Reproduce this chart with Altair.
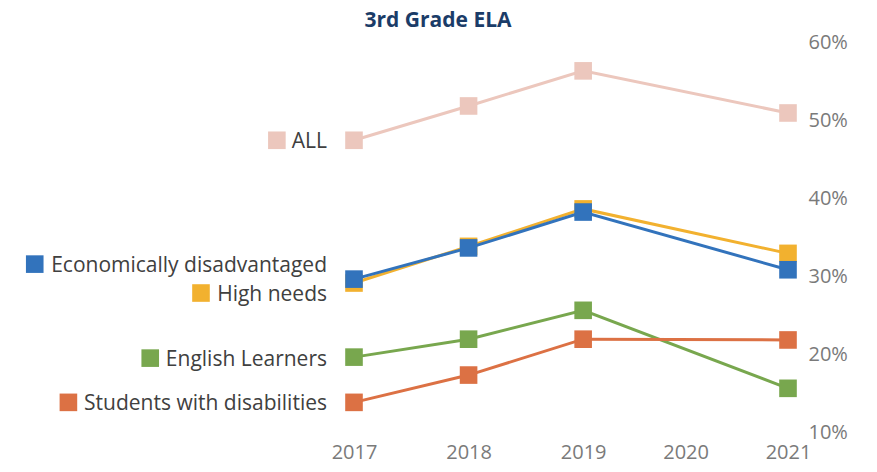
import altair as alt
import pandas as pd

# ---- data ----
years = [2017, 2018, 2019, 2021]
axis_years = [2017, 2018, 2019, 2020, 2021]
y_ticks = [10, 20, 30, 40, 50, 60]

series_order = ["ALL", "High needs", "Economically disadvantaged",
                "English Learners", "Students with disabilities"]
all_vals = [47.4, 51.8, 56.3, 50.9]
high_needs_vals = [29.1, 33.8, 38.6, 32.9]
econ_vals = [29.6, 33.6, 38.2, 30.8]
el_vals = [19.6, 21.9, 25.6, 15.6]
swd_vals = [13.8, 17.3, 21.9, 21.8]

values = {
    "ALL": all_vals,
    "High needs": high_needs_vals,
    "Economically disadvantaged": econ_vals,
    "English Learners": el_vals,
    "Students with disabilities": swd_vals,
}

# ---- styling ----
colors = {
    "ALL": "#ecc7bd",
    "High needs": "#f2b12f",
    "Economically disadvantaged": "#3273bc",
    "English Learners": "#78a74e",
    "Students with disabilities": "#dc7144",
}
label_dy = {
    "ALL": 2,
    "High needs": 12,
    "Economically disadvantaged": -13,
    "English Learners": 3,
    "Students with disabilities": 2,
}

FONT = "Open Sans"
LABEL_SIZE = 21
# approximate Open Sans advance widths (units per em = 2048)
ADV = {" ": 532, "A": 1296, "E": 1139, "H": 1513, "L": 1016, "S": 1100,
       "a": 1139, "b": 1255, "c": 975, "d": 1255, "e": 1149, "g": 1122,
       "h": 1257, "i": 518, "l": 518, "m": 1905, "n": 1257, "o": 1237,
       "r": 836, "s": 977, "t": 723, "u": 1257, "v": 1032, "w": 1591,
       "y": 1032}


def text_width(s, size):
    return sum(ADV.get(ch, 1150) for ch in s) * size / 2048.0


W = 434
H = 390

X = alt.X(
    "year:Q",
    scale=alt.Scale(domain=[2017, 2019, 2021], range=[0, W * 0.528, W],
                    nice=False, zero=False),
    axis=alt.Axis(values=axis_years, format="d", labelFontSize=20,
                  labelFont=FONT, labelColor="#7a7a7a", domain=False,
                  ticks=False, grid=False, title=None, labelPadding=10,
                  labelFlush=False),
)
Y = alt.Y(
    "value:Q",
    scale=alt.Scale(domain=[10, 60], nice=False, zero=False),
    axis=alt.Axis(orient="right", values=y_ticks,
                  labelExpr="datum.value + '%'", labelFontSize=20,
                  labelFont=FONT, labelColor="#7a7a7a", domain=False,
                  ticks=False, grid=False, title=None, labelPadding=20,
                  labelFlush=False),
)

layers = []
for name in series_order:
    df = pd.DataFrame({"year": years, "value": values[name], "series": name})
    first = df.iloc[[0]]
    c = colors[name]
    dy = label_dy[name]
    base = alt.Chart(df)
    layers.append(base.mark_line(color=c, strokeWidth=3).encode(x=X, y=Y))
    layers.append(base.mark_point(shape="square", filled=True, size=310,
                                  color=c, opacity=1).encode(x=X, y=Y))
    layers.append(
        alt.Chart(first).mark_text(align="right", baseline="middle", dx=-27,
                                   dy=dy, font=FONT, fontSize=LABEL_SIZE,
                                   color="#404040")
        .encode(x=X, y=Y, text="series:N")
    )
    w = text_width(name, LABEL_SIZE)
    layers.append(
        alt.Chart(first).mark_point(shape="square", filled=True, size=310,
                                    color=c, opacity=1)
        .encode(x=X, y=Y, xOffset=alt.value(-(43 + w)),
                yOffset=alt.value(dy - 2))
    )

chart = alt.layer(*layers).properties(
    width=W,
    height=H,
    title=alt.TitleParams("3rd Grade ELA", font=FONT, fontSize=21,
                          fontWeight="bold", color="#1b3c68", anchor="middle",
                          frame="group", dx=-133, offset=1),
    autosize=alt.AutoSizeParams(type="none"),
    padding={"left": 346, "top": 34, "right": 81, "bottom": 32},
).configure_view(stroke=None)

chart.save("out.html", embed_options={"renderer": "svg", "actions": False})
